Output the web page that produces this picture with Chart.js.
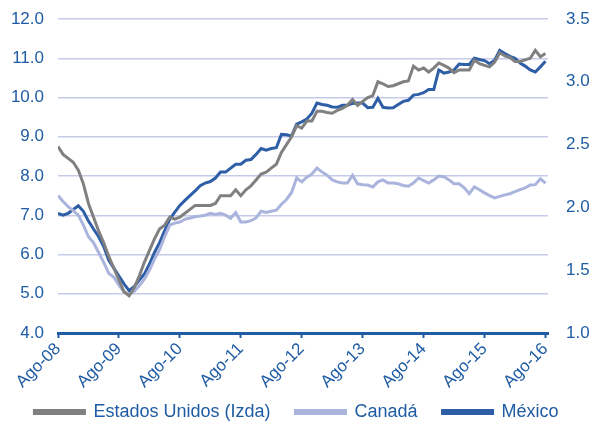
<!DOCTYPE html>
<html>
<head>
<meta charset="utf-8">
<script src="https://cdn.jsdelivr.net/npm/chart.js@4"></script>
<style>
  html, body { margin: 0; padding: 0; background: #fff; }
  #wrap { width: 593px; height: 423px; }
</style>
</head>
<body>
<div id="wrap"><canvas id="chart" width="593" height="423"></canvas></div>
<script>
// mensual, ago-08 .. ago-16
const tickLabels = ['Ago-08', 'Ago-09', 'Ago-10', 'Ago-11', 'Ago-12', 'Ago-13', 'Ago-14', 'Ago-15', 'Ago-16'];

// Estados Unidos (eje izquierdo)
const eeuu = [
  8.75, 8.55, 8.45, 8.35, 8.15, 7.8, 7.3, 6.95, 6.6, 6.3, 5.95, 5.65,
  5.35, 5.05, 4.95, 5.15, 5.45, 5.8, 6.1, 6.4, 6.65, 6.75, 6.95, 6.9,
  6.95, 7.05, 7.15, 7.25, 7.25, 7.25, 7.25, 7.3, 7.5, 7.5, 7.5, 7.65,
  7.5, 7.65, 7.75, 7.9, 8.05, 8.1, 8.2, 8.3, 8.6, 8.8, 9.0, 9.28,
  9.22, 9.4, 9.4, 9.65, 9.65, 9.62, 9.6, 9.67, 9.72, 9.8, 9.95, 9.8,
  9.9, 10.0, 10.05, 10.4, 10.35, 10.28, 10.3, 10.35, 10.4, 10.42, 10.8, 10.7,
  10.75, 10.65, 10.75, 10.88, 10.82, 10.75, 10.63, 10.7, 10.7, 10.7, 10.95, 10.86,
  10.82, 10.78, 10.9, 11.14, 11.06, 11.02, 10.92, 10.92, 10.96, 11.0, 11.2, 11.04,
  11.12
];

// Canadá (eje derecho)
const canada = [
  2.094, 2.047, 2.006, 1.975, 1.938, 1.859, 1.766, 1.719, 1.641, 1.563, 1.475, 1.444,
  1.381, 1.328, 1.306, 1.331, 1.375, 1.428, 1.5, 1.588, 1.663, 1.766, 1.859, 1.875,
  1.884, 1.906, 1.916, 1.925, 1.931, 1.938, 1.953, 1.944, 1.953, 1.938, 1.913, 1.959,
  1.884, 1.884, 1.894, 1.916, 1.969, 1.959, 1.969, 1.978, 2.025, 2.063, 2.119, 2.234,
  2.203, 2.241, 2.266, 2.313, 2.281, 2.256, 2.219, 2.203, 2.194, 2.194, 2.256, 2.188,
  2.181, 2.178, 2.163, 2.203, 2.219, 2.194, 2.194, 2.188, 2.175, 2.169, 2.194, 2.234,
  2.213, 2.194, 2.219, 2.25, 2.244, 2.219, 2.188, 2.188, 2.156, 2.109, 2.163, 2.141,
  2.116, 2.094, 2.075, 2.088, 2.1, 2.109, 2.125, 2.141, 2.156, 2.178, 2.181, 2.228,
  2.194
];

// México (eje derecho)
const mexico = [
  1.953, 1.938, 1.953, 1.984, 2.013, 1.969, 1.891, 1.828, 1.766, 1.688, 1.578, 1.516,
  1.453, 1.391, 1.338, 1.369, 1.422, 1.469, 1.547, 1.641, 1.719, 1.813, 1.906, 1.963,
  2.016, 2.056, 2.094, 2.131, 2.172, 2.194, 2.206, 2.234, 2.281, 2.281, 2.313, 2.344,
  2.344, 2.375, 2.381, 2.422, 2.469, 2.456, 2.469, 2.475, 2.581, 2.578, 2.569, 2.663,
  2.681, 2.703, 2.75, 2.831, 2.819, 2.813, 2.8, 2.797, 2.813, 2.813, 2.828, 2.831,
  2.831, 2.794, 2.797, 2.869, 2.797, 2.791, 2.794, 2.819, 2.844, 2.853, 2.894, 2.9,
  2.913, 2.938, 2.938, 3.094, 3.069, 3.078, 3.094, 3.141, 3.138, 3.138, 3.188, 3.178,
  3.169, 3.144, 3.172, 3.25, 3.225, 3.203, 3.188, 3.15, 3.125, 3.094, 3.078, 3.119,
  3.163
];

const azul = '#1f5ca3';
const toPoints = arr => arr.map((v, i) => ({ x: i, y: v }));

// altura fija para la leyenda
const legendHeight = {
  id: 'legendHeight',
  beforeInit(chart) {
    const fit = chart.legend.fit;
    chart.legend.fit = function () {
      fit.bind(chart.legend)();
      this.height = 45;
    };
  }
};

// ejes verticales sin relleno extra arriba/abajo
const fitVertical = width => s => {
  s.width = width;
  s.paddingTop = 0;
  s.paddingBottom = 0;
};

Chart.defaults.font.family = '"Liberation Sans", Arial, sans-serif';
Chart.defaults.color = azul;

const ctx = document.getElementById('chart').getContext('2d');
new Chart(ctx, {
  type: 'line',
  data: {
    datasets: [
      {
        label: 'Estados Unidos (Izda)',
        data: toPoints(eeuu),
        yAxisID: 'y',
        borderColor: '#808080',
        backgroundColor: '#808080',
        borderWidth: 3
      },
      {
        label: 'Canadá',
        data: toPoints(canada),
        yAxisID: 'y2',
        borderColor: '#aab4dc',
        backgroundColor: '#aab4dc',
        borderWidth: 3
      },
      {
        label: 'México',
        data: toPoints(mexico),
        yAxisID: 'y2',
        borderColor: '#2e5ea6',
        backgroundColor: '#2e5ea6',
        borderWidth: 3
      }
    ]
  },
  plugins: [legendHeight],
  options: {
    responsive: false,
    animation: false,
    layout: { padding: { top: 19, left: 0, right: 0, bottom: 0 } },
    elements: { point: { radius: 0 }, line: { tension: 0 } },
    plugins: {
      tooltip: { enabled: false },
      legend: {
        position: 'bottom',
        labels: {
          boxWidth: 50,
          boxHeight: 3,
          padding: 25,
          color: azul,
          font: { size: 18 }
        }
      }
    },
    scales: {
      x: {
        type: 'linear',
        min: 0,
        max: 96.5,
        afterFit: s => {
          s.height = 45;
          s._computeLabelArea = () => null; // no recortar las etiquetas giradas
        },
        ticks: {
          stepSize: 12,
          includeBounds: false,
          autoSkip: false,
          maxRotation: 45,
          minRotation: 45,
          padding: 1,
          color: azul,
          font: { size: 17 },
          callback: v => tickLabels[v / 12]
        },
        grid: {
          drawOnChartArea: false,
          drawTicks: true,
          tickLength: 5,
          tickColor: azul,
          tickWidth: 2
        },
        border: { color: azul, width: 3 }
      },
      y: {
        position: 'left',
        min: 4,
        max: 12,
        afterFit: fitVertical(58),
        ticks: {
          stepSize: 1,
          padding: 14,
          color: azul,
          font: { size: 17 },
          callback: v => v.toFixed(1)
        },
        grid: { color: '#c5cbe8', lineWidth: 1.5, drawTicks: false },
        border: { display: false }
      },
      y2: {
        position: 'right',
        min: 1,
        max: 3.5,
        afterFit: fitVertical(45),
        ticks: {
          stepSize: 0.5,
          padding: 18,
          color: azul,
          font: { size: 17 },
          callback: v => v.toFixed(1)
        },
        grid: { drawOnChartArea: false, drawTicks: false },
        border: { display: false }
      }
    }
  }
});
</script>
</body>
</html>
